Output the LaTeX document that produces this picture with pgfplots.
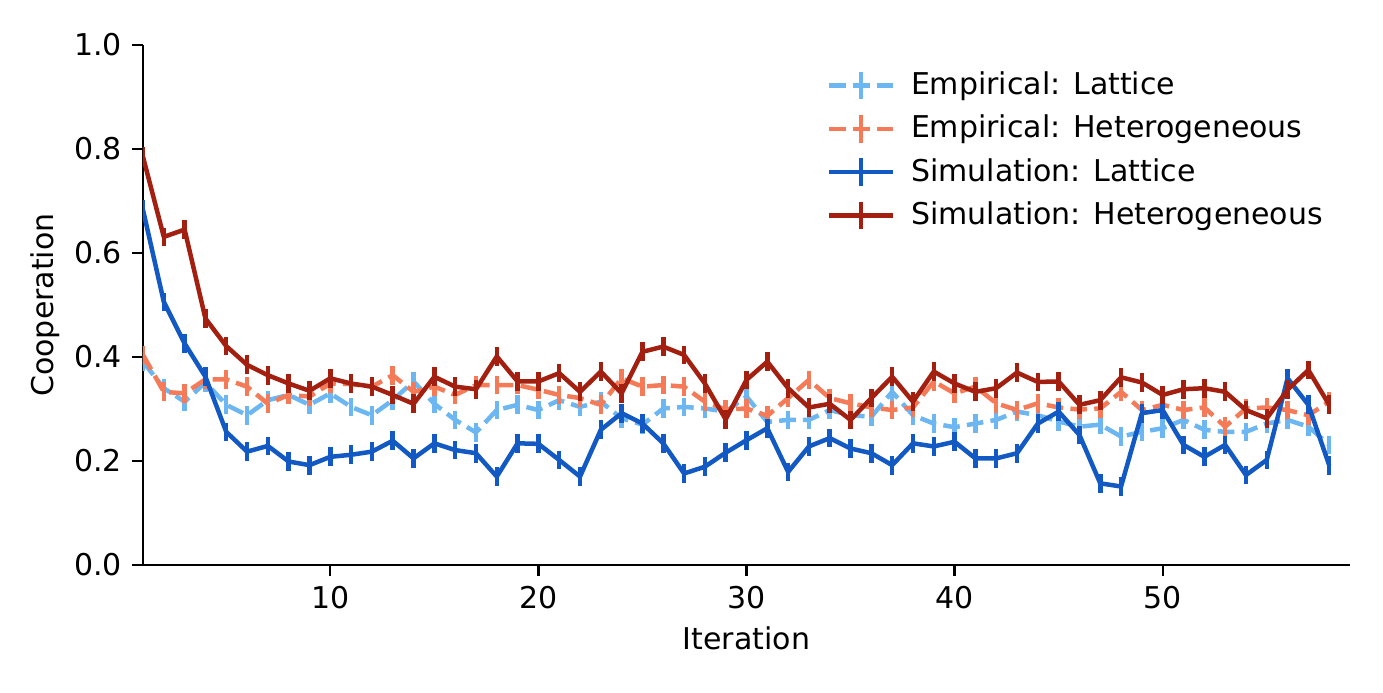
\documentclass[border=0pt]{standalone}
\usepackage{fontspec}
\setmainfont{DejaVu Sans}
\usepackage{pgfplots}
\usepackage{pgfplotstable}
\pgfplotsset{compat=1.18}
\definecolor{cEL}{HTML}{6CB6F2}
\definecolor{cEH}{HTML}{F47A58}
\definecolor{cSL}{HTML}{1259C3}
\definecolor{cSH}{HTML}{A31F10}
\pgfplotstableread{
x sh sl eh el
1 0.785 0.683 0.404 0.391
2 0.631 0.506 0.333 0.340
3 0.645 0.426 0.330 0.314
4 0.474 0.362 0.357 0.351
5 0.421 0.256 0.357 0.308
6 0.385 0.218 0.343 0.288
7 0.365 0.229 0.310 0.317
8 0.349 0.199 0.327 0.327
9 0.335 0.192 0.324 0.308
10 0.359 0.208 0.349 0.330
11 0.349 0.212 0.348 0.304
12 0.343 0.218 0.343 0.288
13 0.327 0.239 0.365 0.317
14 0.310 0.205 0.333 0.353
15 0.362 0.234 0.343 0.310
16 0.343 0.221 0.327 0.279
17 0.338 0.215 0.346 0.255
18 0.401 0.170 0.346 0.298
19 0.353 0.234 0.346 0.308
20 0.353 0.233 0.337 0.298
21 0.369 0.202 0.327 0.317
22 0.333 0.170 0.321 0.304
23 0.372 0.260 0.308 0.314
24 0.330 0.292 0.359 0.282
25 0.410 0.272 0.343 0.270
26 0.420 0.234 0.346 0.301
27 0.404 0.176 0.343 0.304
28 0.349 0.189 0.314 0.301
29 0.280 0.216 0.299 0.295
30 0.356 0.240 0.301 0.324
31 0.391 0.263 0.287 0.275
32 0.340 0.179 0.321 0.279
33 0.303 0.228 0.356 0.279
34 0.310 0.244 0.321 0.298
35 0.279 0.224 0.311 0.288
36 0.321 0.215 0.303 0.285
37 0.362 0.192 0.298 0.333
38 0.314 0.234 0.303 0.288
39 0.372 0.228 0.353 0.272
40 0.349 0.237 0.330 0.265
41 0.333 0.205 0.343 0.272
42 0.340 0.205 0.311 0.279
43 0.370 0.215 0.298 0.295
44 0.352 0.272 0.311 0.288
45 0.353 0.295 0.303 0.276
46 0.308 0.250 0.299 0.266
47 0.317 0.157 0.301 0.270
48 0.361 0.151 0.333 0.247
49 0.351 0.292 0.298 0.256
50 0.327 0.298 0.308 0.263
51 0.338 0.231 0.298 0.279
52 0.340 0.208 0.303 0.260
53 0.333 0.231 0.266 0.256
54 0.298 0.173 0.301 0.256
55 0.282 0.202 0.303 0.272
56 0.337 0.359 0.298 0.279
57 0.375 0.308 0.288 0.266
58 0.308 0.192 0.314 0.231
}\datatable
\begin{document}
\fontsize{10.8pt}{13pt}\selectfont
\begin{tikzpicture}
\begin{axis}[
  scale only axis,
  width=434.52pt, height=187.2pt,
  xmin=1, xmax=59, ymin=0, ymax=1,
  axis x line*=bottom, axis y line*=left,
  axis line style={line width=0.864pt},
  every tick/.style={black, line width=0.864pt},
  tick align=outside, major tick length=3.78pt,
  xtick={10,20,30,40,50},
  ytick={0,0.2,0.4,0.6,0.8,1.0},
  yticklabel style={/pgf/number format/.cd, fixed, fixed zerofill, precision=1},
  /pgf/number format/assume math mode=true,
  xlabel={Iteration}, ylabel={Cooperation},
  xlabel style={at={(axis description cs:0.5,-0.1404)}, anchor=center},
  ylabel style={at={(axis description cs:-0.0812,0.5)}, anchor=center},
  legend cell align=left,
  legend style={draw=none, fill=none, at={(0.5592,0.971)}, anchor=north west, row sep=1.8pt},
  legend image code/.code={
    \path[draw=none] (0pt,0pt) -- (27.5pt,0pt);
    \draw[#1] (0pt,0pt) -- (23pt,0pt);
    \draw[#1,solid] (11.5pt,-5pt) -- (11.5pt,5pt);
  },
  every axis plot/.append style={line width=1.62pt, line join=round},
  error bars/y dir=both, error bars/y fixed=0.018, error bars/error mark=none,
  error bars/error bar style={solid, line width=1.62pt},
]
\addplot[cEL, dash pattern=on 6pt off 2.6pt, no markers] table[x=x, y=el] {\datatable};
\addlegendentry{Empirical: Lattice}
\addplot[cEH, dash pattern=on 6pt off 2.6pt, no markers] table[x=x, y=eh] {\datatable};
\addlegendentry{Empirical: Heterogeneous}
\addplot[cSL, no markers] table[x=x, y=sl] {\datatable};
\addlegendentry{Simulation: Lattice}
\addplot[cSH, no markers] table[x=x, y=sh] {\datatable};
\addlegendentry{Simulation: Heterogeneous}
\end{axis}
\pgfresetboundingbox
\path[use as bounding box] (-51.48pt,-45.72pt) rectangle (446.4pt,203.4pt);
\end{tikzpicture}
\end{document}
